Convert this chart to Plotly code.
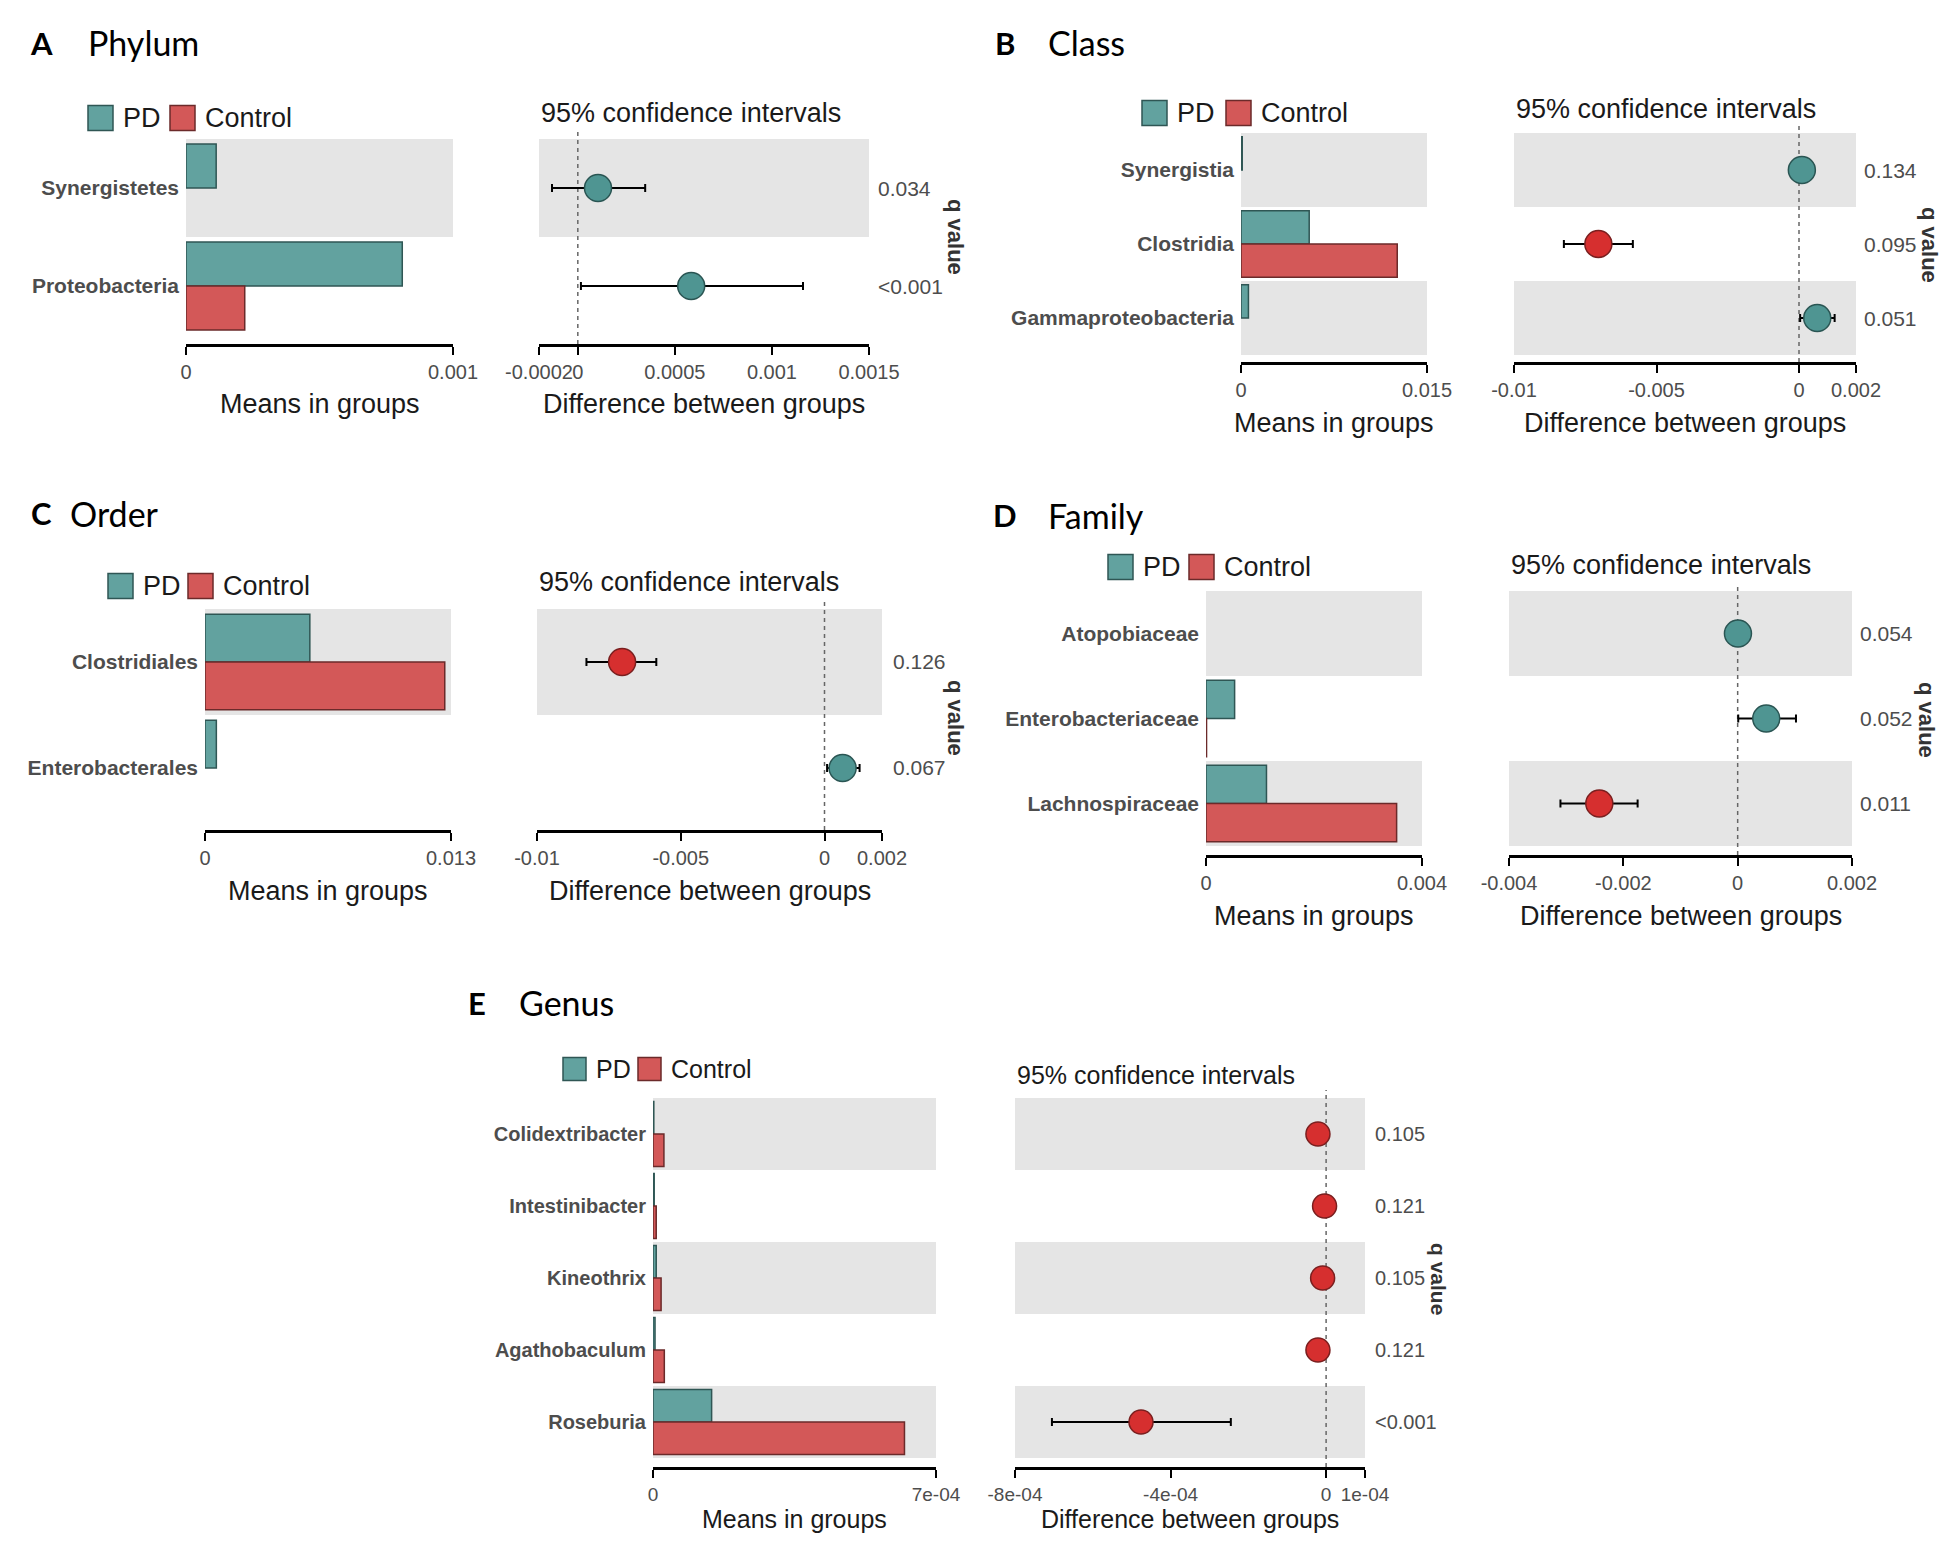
import plotly.graph_objects as go

# ---------------- data ----------------
A_taxa = ["Synergistetes", "Proteobacteria"]
A_pd = [0.000113, 0.00081]
A_ctrl = [0.0, 0.00022]
A_diff = [0.000104, 0.000584]
A_lo = [-0.000133, 0.000016]
A_hi = [0.000347, 0.00116]
A_q = ["0.034", "<0.001"]
A_bar_ticks = [0, 0.001]
A_bar_ticktext = ["0", "0.001"]
A_ci_ticks = [-0.0002, 0, 0.0005, 0.001, 0.0015]
A_ci_ticktext = ["-0.0002", "0", "0.0005", "0.001", "0.0015"]

B_taxa = ["Synergistia", "Clostridia", "Gammaproteobacteria"]
B_pd = [0.0001, 0.0055, 0.0006]
B_ctrl = [0.0, 0.0126, 0.0]
B_diff = [0.0001, -0.00704, 0.00064]
B_lo = [0.00005, -0.00825, 0.00004]
B_hi = [0.00015, -0.00583, 0.00125]
B_q = ["0.134", "0.095", "0.051"]
B_bar_ticks = [0, 0.015]
B_bar_ticktext = ["0", "0.015"]
B_ci_ticks = [-0.01, -0.005, 0, 0.002]
B_ci_ticktext = ["-0.01", "-0.005", "0", "0.002"]

C_taxa = ["Clostridiales", "Enterobacterales"]
C_pd = [0.00554, 0.0006]
C_ctrl = [0.01267, 0.0]
C_diff = [-0.00704, 0.00063]
C_lo = [-0.00828, 0.00009]
C_hi = [-0.00585, 0.00122]
C_q = ["0.126", "0.067"]
C_bar_ticks = [0, 0.013]
C_bar_ticktext = ["0", "0.013"]
C_ci_ticks = [-0.01, -0.005, 0, 0.002]
C_ci_ticktext = ["-0.01", "-0.005", "0", "0.002"]

D_taxa = ["Atopobiaceae", "Enterobacteriaceae", "Lachnospiraceae"]
D_pd = [0.0, 0.00053, 0.00112]
D_ctrl = [0.0, 0.00001, 0.00353]
D_diff = [0.000005, 0.0005, -0.00242]
D_lo = [-0.00003, 0.00001, -0.0031]
D_hi = [0.00003, 0.00102, -0.00175]
D_q = ["0.054", "0.052", "0.011"]
D_bar_ticks = [0, 0.004]
D_bar_ticktext = ["0", "0.004"]
D_ci_ticks = [-0.004, -0.002, 0, 0.002]
D_ci_ticktext = ["-0.004", "-0.002", "0", "0.002"]

E_taxa = ["Colidextribacter", "Intestinibacter", "Kineothrix", "Agathobaculum", "Roseburia"]
E_pd = [0.000002, 0.000003, 0.000008, 0.000005, 0.000145]
E_ctrl = [0.000027, 0.000008, 0.00002, 0.000028, 0.000622]
E_diff = [-0.000021, -0.000004, -0.000009, -0.000021, -0.000476]
E_lo = [-0.000035, -0.000012, -0.00002, -0.000035, -0.000705]
E_hi = [-0.000007, 0.000003, 0.000002, -0.000007, -0.000245]
E_q = ["0.105", "0.121", "0.105", "0.121", "<0.001"]
E_bar_ticks = [0, 0.0007]
E_bar_ticktext = ["0", "7e-04"]
E_ci_ticks = [-0.0008, -0.0004, 0, 0.0001]
E_ci_ticktext = ["-8e-04", "-4e-04", "0", "1e-04"]

# ---------------- styling / layout ----------------
W, H = 1959, 1548
OFF = 8  # page body margin of the browser
PD_BAR, PD_LINE = "#62A29F", "#2F5654"
CT_BAR, CT_LINE = "#D35858", "#6B2A2A"
PD_PT, PD_PT_LINE = "#4F9592", "#2A5553"
CT_PT, CT_PT_LINE = "#D62F2F", "#7A1F1F"
BAND = "#E5E5E5"
FONT = "Liberation Sans, Arial, sans-serif"
TFONT = "Lato, Liberation Sans, sans-serif"

BIG = dict(cat=21, tick=20, q=21, atitle=27, legend=27, ctitle=27, qlab=22, title=34, letter=31, marker=27, box=25)
SMALL = dict(cat=20, tick=19, q=20, atitle=25, legend=25, ctitle=25, qlab=21, title=34, letter=31, marker=24, box=23)

panels = [
    dict(letter="A", title="Phylum", taxa=A_taxa, pd=A_pd, ctrl=A_ctrl, diff=A_diff, lo=A_lo, hi=A_hi, q=A_q,
         brange=[0, 0.001], bt=A_bar_ticks, btt=A_bar_ticktext, crange=[-0.0002, 0.0015], ct=A_ci_ticks, ctt=A_ci_ticktext,
         g=dict(lx=41, ly=43, tx=86, leg_y=118, leg_pd=88, leg_ct=170, bx0=186, bx1=453, cx0=539, cx1=869,
                top=139, rb=335, axis=344, qx=876, qlx=956, qly=237, aty=404, cty=113), fs=BIG),
    dict(letter="B", title="Class", taxa=B_taxa, pd=B_pd, ctrl=B_ctrl, diff=B_diff, lo=B_lo, hi=B_hi, q=B_q,
         brange=[0, 0.015], bt=B_bar_ticks, btt=B_bar_ticktext, crange=[-0.01, 0.002], ct=B_ci_ticks, ctt=B_ci_ticktext,
         g=dict(lx=1005, ly=43, tx=1046, leg_y=113, leg_pd=1142, leg_ct=1226, bx0=1241, bx1=1427, cx0=1514, cx1=1856,
                top=133, rb=355, axis=362, qx=1862, qlx=1930, qly=245, aty=423, cty=109), fs=BIG),
    dict(letter="C", title="Order", taxa=C_taxa, pd=C_pd, ctrl=C_ctrl, diff=C_diff, lo=C_lo, hi=C_hi, q=C_q,
         brange=[0, 0.013], bt=C_bar_ticks, btt=C_bar_ticktext, crange=[-0.01, 0.002], ct=C_ci_ticks, ctt=C_ci_ticktext,
         g=dict(lx=41, ly=513, tx=68, leg_y=586, leg_pd=108, leg_ct=188, bx0=205, bx1=451, cx0=537, cx1=882,
                top=609, rb=821, axis=830, qx=891, qlx=956, qly=718, aty=891, cty=582), fs=BIG),
    dict(letter="D", title="Family", taxa=D_taxa, pd=D_pd, ctrl=D_ctrl, diff=D_diff, lo=D_lo, hi=D_hi, q=D_q,
         brange=[0, 0.004], bt=D_bar_ticks, btt=D_bar_ticktext, crange=[-0.004, 0.002], ct=D_ci_ticks, ctt=D_ci_ticktext,
         g=dict(lx=1005, ly=515, tx=1046, leg_y=567, leg_pd=1108, leg_ct=1189, bx0=1206, bx1=1422, cx0=1509, cx1=1852,
                top=591, rb=846, axis=855, qx=1858, qlx=1927, qly=720, aty=916, cty=565), fs=BIG),
    dict(letter="E", title="Genus", taxa=E_taxa, pd=E_pd, ctrl=E_ctrl, diff=E_diff, lo=E_lo, hi=E_hi, q=E_q,
         brange=[0, 0.0007], bt=E_bar_ticks, btt=E_bar_ticktext, crange=[-0.0008, 0.0001], ct=E_ci_ticks, ctt=E_ci_ticktext,
         g=dict(lx=477, ly=1003, tx=517, leg_y=1069, leg_pd=563, leg_ct=638, bx0=653, bx1=936, cx0=1015, cx1=1365,
                top=1098, rb=1458, axis=1467, qx=1373, qlx=1439, qly=1279, aty=1519, cty=1075), fs=SMALL),
]


def pxx(x):
    return (x - OFF) / W


def pyy(y):
    return 1 - (y - OFF) / H


fig = go.Figure()
layout = dict(width=W, height=H, autosize=False, margin=dict(l=0, r=0, t=0, b=0, pad=0, autoexpand=False),
              paper_bgcolor="white", plot_bgcolor="white", showlegend=False, barmode="overlay")
shapes, annotations = [], []

for k, p in enumerate(panels):
    g, fs = p["g"], p["fs"]
    n = len(p["taxa"])
    rows = list(range(n))
    bi, ci = 2 * k + 1, 2 * k + 2
    bxn = "x" if bi == 1 else f"x{bi}"
    byn = "y" if bi == 1 else f"y{bi}"
    cxn, cyn = f"x{ci}", f"y{ci}"

    rh = (g["rb"] - g["top"]) / n
    pad_top = 8
    top_px = g["top"] - pad_top
    yr = [n - 0.5 + (g["axis"] - g["rb"]) / rh, -0.5 - pad_top / rh]
    ydom = [pyy(g["axis"]), pyy(top_px)]

    xaxis_common = dict(showline=True, linecolor="black", linewidth=2.5, ticks="outside", tickcolor="black",
                        tickwidth=2, ticklen=8, showgrid=False, zeroline=False, tickmode="array", tickangle=0,
                        automargin=False,
                        tickfont=dict(family=FONT, size=fs["tick"], color="#4D4D4D"), fixedrange=True)
    layout["xaxis" if bi == 1 else f"xaxis{bi}"] = dict(
        xaxis_common, domain=[pxx(g["bx0"]), pxx(g["bx1"])], range=p["brange"],
        tickvals=p["bt"], ticktext=p["btt"], anchor=byn)
    layout["yaxis" if bi == 1 else f"yaxis{bi}"] = dict(
        domain=ydom, range=yr, anchor=bxn, showline=False, showgrid=False, zeroline=False, ticks="",
        tickmode="array", tickvals=rows, ticktext=p["taxa"], ticklabelstandoff=6, automargin=False,
        tickfont=dict(family=FONT, size=fs["cat"], color="#4D4D4D", weight="bold"), fixedrange=True)
    layout[f"xaxis{ci}"] = dict(
        xaxis_common, domain=[pxx(g["cx0"]), pxx(g["cx1"])], range=p["crange"],
        tickvals=p["ct"], ticktext=p["ctt"], anchor=cyn)
    layout[f"yaxis{ci}"] = dict(domain=ydom, range=yr, anchor=cxn, showline=False, showgrid=False,
                                zeroline=False, showticklabels=False, ticks="", fixedrange=True, automargin=False)

    # bars: PD in upper half of each row, Control in lower half (no outline for zero-height bars)
    fig.add_trace(go.Bar(x=p["pd"], y=[r - 0.225 for r in rows], orientation="h", width=0.45,
                         marker=dict(color=PD_BAR, line=dict(color=PD_LINE,
                                                             width=[1.5 if v > 0 else 0 for v in p["pd"]])),
                         xaxis=bxn, yaxis=byn, name="PD"))
    fig.add_trace(go.Bar(x=p["ctrl"], y=[r + 0.225 for r in rows], orientation="h", width=0.45,
                         marker=dict(color=CT_BAR, line=dict(color=CT_LINE,
                                                             width=[1.5 if v > 0 else 0 for v in p["ctrl"]])),
                         xaxis=bxn, yaxis=byn, name="Control"))

    # confidence intervals
    cols = [PD_PT if d > 0 else CT_PT for d in p["diff"]]
    lcols = [PD_PT_LINE if d > 0 else CT_PT_LINE for d in p["diff"]]
    fig.add_trace(go.Scatter(
        x=p["diff"], y=rows, mode="markers", xaxis=cxn, yaxis=cyn,
        marker=dict(size=fs["marker"], color=cols, line=dict(color=lcols, width=1.5)),
        error_x=dict(type="data", symmetric=False,
                     array=[h - d for h, d in zip(p["hi"], p["diff"])],
                     arrayminus=[d - l for d, l in zip(p["diff"], p["lo"])],
                     color="black", thickness=2, width=4)))

    # grey bands on alternating rows
    for r in rows:
        if r % 2 == 0:
            for xr, yref in ((bxn, byn), (cxn, cyn)):
                shapes.append(dict(type="rect", xref=f"{xr} domain", x0=0, x1=1, yref=yref,
                                   y0=r - 0.5, y1=r + 0.5, fillcolor=BAND, line=dict(width=0), layer="below"))
    # dashed zero line
    shapes.append(dict(type="line", xref=cxn, x0=0, x1=0, yref=f"{cyn} domain", y0=0, y1=1,
                       line=dict(color="#666666", width=1.5, dash="4px,4px"), layer="below"))

    # legend swatches
    s = fs["box"]
    for x0, col, lc, lab in ((g["leg_pd"], PD_BAR, PD_LINE, "PD"), (g["leg_ct"], CT_BAR, CT_LINE, "Control")):
        shapes.append(dict(type="rect", xref="paper", yref="paper", x0=pxx(x0), x1=pxx(x0 + s),
                           y0=pyy(g["leg_y"] + s / 2), y1=pyy(g["leg_y"] - s / 2),
                           fillcolor=col, line=dict(color=lc, width=1.5)))
        annotations.append(dict(text=lab, xref="paper", yref="paper", x=pxx(x0 + s + 8), y=pyy(g["leg_y"]),
                                xanchor="left", yanchor="middle", showarrow=False,
                                font=dict(family=FONT, size=fs["legend"], color="#1A1A1A")))

    # panel letter + title
    annotations.append(dict(text=f"<b>{p['letter']}</b>", xref="paper", yref="paper", x=pxx(g["lx"]),
                            y=pyy(g["ly"]), xanchor="center", yanchor="middle", showarrow=False,
                            font=dict(family=TFONT, size=fs["letter"], color="black")))
    annotations.append(dict(text=p["title"], xref="paper", yref="paper", x=pxx(g["tx"]), y=pyy(g["ly"]),
                            xanchor="left", yanchor="middle", showarrow=False,
                            font=dict(family=TFONT, size=fs["title"], color="black")))
    # CI title
    annotations.append(dict(text="95% confidence intervals", xref="paper", yref="paper", x=pxx(g["cx0"]),
                            y=pyy(g["cty"]), xanchor="left", yanchor="middle", showarrow=False,
                            font=dict(family=FONT, size=fs["ctitle"], color="#1A1A1A")))
    # axis titles
    annotations.append(dict(text="Means in groups", xref=f"{bxn} domain", x=0.5, yref="paper", y=pyy(g["aty"]),
                            xanchor="center", yanchor="middle", showarrow=False,
                            font=dict(family=FONT, size=fs["atitle"], color="#1A1A1A")))
    annotations.append(dict(text="Difference between groups", xref=f"{cxn} domain", x=0.5, yref="paper",
                            y=pyy(g["aty"]), xanchor="center", yanchor="middle", showarrow=False,
                            font=dict(family=FONT, size=fs["atitle"], color="#1A1A1A")))
    # q values
    for r, qv in zip(rows, p["q"]):
        annotations.append(dict(text=qv.replace("<", "&lt;"), xref="paper", x=pxx(g["qx"]), yref=cyn, y=r,
                                xanchor="left", yanchor="middle", showarrow=False,
                                font=dict(family=FONT, size=fs["q"], color="#4D4D4D")))
    annotations.append(dict(text="<b>q value</b>", xref="paper", yref="paper", x=pxx(g["qlx"]), y=pyy(g["qly"]),
                            xanchor="center", yanchor="middle", textangle=90, showarrow=False,
                            font=dict(family=FONT, size=fs["qlab"], color="#333333")))

layout["shapes"] = shapes
layout["annotations"] = annotations
fig.update_layout(**layout)
fig.write_html("out.html")
